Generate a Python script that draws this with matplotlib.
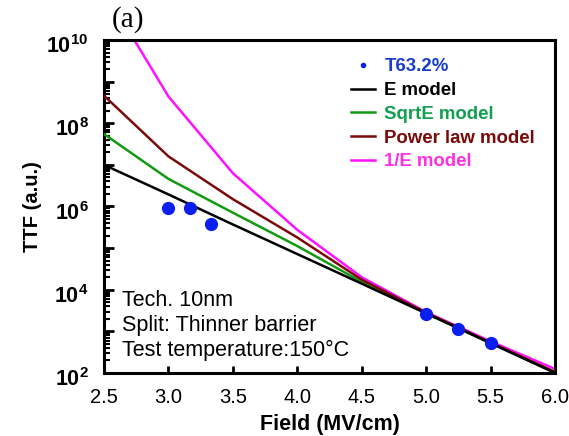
import matplotlib
matplotlib.use("Agg")
import matplotlib.pyplot as plt
import matplotlib.transforms as mtrans
import numpy as np
from matplotlib.ticker import LogLocator, FuncFormatter, NullFormatter, FixedLocator

plt.rcParams['font.family'] = ['Liberation Sans', 'DejaVu Sans']
plt.rcParams['mathtext.fontset'] = 'custom'
plt.rcParams['mathtext.rm'] = 'Liberation Sans'
plt.rcParams['mathtext.bf'] = 'Liberation Sans:bold'

# ---- data ----
field = [2.5, 3.0, 3.5, 4.0, 4.5, 5.0, 5.5, 6.0]
e_model = [1.0e7, 1.95e6, 3.7e5, 7.2e4, 1.4e4, 2.7e3, 5.2e2, 1.0e2]
sqrte_model = [5.5e7, 4.6e6, 7.1e5, 1.12e5, 1.55e4, 2.75e3, 5.25e2, 1.05e2]
power_model = [4.6e8, 1.6e7, 1.5e6, 1.8e5, 1.75e4, 2.8e3, 5.4e2, 1.05e2]
inv_e_model = [1.6e11, 4.4e8, 6.3e6, 2.75e5, 2.0e4, 2.9e3, 5.75e2, 1.25e2]

pts_field = [3.0, 3.17, 3.33, 5.0, 5.25, 5.5]
pts_ttf = [9.4e5, 9.2e5, 3.8e5, 2.6e3, 1.12e3, 5.2e2]

xticks = [2.5, 3.0, 3.5, 4.0, 4.5, 5.0, 5.5, 6.0]

fig = plt.figure(figsize=(5.69, 4.36), dpi=100)
ax = fig.add_axes([0.1828, 0.1445, 0.7926, 0.7638])

ax.plot(pts_field, pts_ttf, 'o', color='#0a1ef0', markersize=8.5, label='T63.2%', zorder=5)
ax.plot(field, e_model, '-', color='black', lw=1.8, label='E model', zorder=4)
ax.plot(field, sqrte_model, '-', color='#129a12', lw=1.8, label='SqrtE model', zorder=3)
ax.plot(field, power_model, '-', color='#7a0a0a', lw=1.8, label='Power law model', zorder=3)
ax.plot(field, inv_e_model, '-', color='#ff10ff', lw=1.8, label='1/E model', zorder=2)

ax.set_yscale('log')
ax.set_xlim(2.5, 6.0)
ax.set_ylim(1e2, 1e10)

ax.xaxis.set_major_locator(FixedLocator(xticks))
ax.set_xticklabels([f'{v:.1f}' for v in xticks])
ax.yaxis.set_major_locator(LogLocator(base=10, numticks=20))
ax.yaxis.set_minor_locator(LogLocator(base=10, subs=np.arange(2, 10), numticks=20))
ax.yaxis.set_minor_formatter(NullFormatter())

def yfmt(v, pos):
    e = int(round(np.log10(v)))
    if e % 2 == 0:
        return r'$\mathbf{10^{%d}}$' % e
    return ''
ax.yaxis.set_major_formatter(FuncFormatter(yfmt))

for s in ax.spines.values():
    s.set_linewidth(2.2)
ax.tick_params(axis='x', which='major', direction='in', length=5, width=2, pad=11, labelsize=14.5)
ax.tick_params(axis='y', which='major', direction='in', length=7, width=2, pad=11, labelsize=15.5)
ax.tick_params(axis='y', which='minor', direction='in', length=4, width=1.5)
ax.tick_params(right=False, top=False, which='both')

offset = mtrans.ScaledTranslation(0, -3 / 72, fig.dpi_scale_trans)
for lab in ax.get_yticklabels():
    lab.set_transform(lab.get_transform() + offset)

ax.set_xlabel('Field (MV/cm)', fontsize=15.5, fontweight='bold', labelpad=5)
ax.set_ylabel('TTF (a.u.)', fontsize=14.5, fontweight='bold', labelpad=3)

leg = ax.legend(loc='upper left', bbox_to_anchor=(0.51, 0.995), frameon=False,
                prop={'weight': 'bold', 'size': 13.4}, handlelength=1.3,
                handletextpad=0.5, labelspacing=0.36, markerscale=0.35)
text_colors = ['#1a3ccc', 'black', '#10a050', '#7a0a0a', '#ff30e0']
for t, c in zip(leg.get_texts(), text_colors):
    t.set_color(c)

ax.text(0.04, 0.25, 'Tech. 10nm\nSplit: Thinner barrier\nTest temperature:150\u00b0C',
        transform=ax.transAxes, fontsize=15.5, va='top', ha='left', linespacing=1.25)

fig.text(0.225, 0.955, '(a)', family='Liberation Serif', fontsize=21, ha='center', va='center')

fig.savefig('out.png', dpi=100)
